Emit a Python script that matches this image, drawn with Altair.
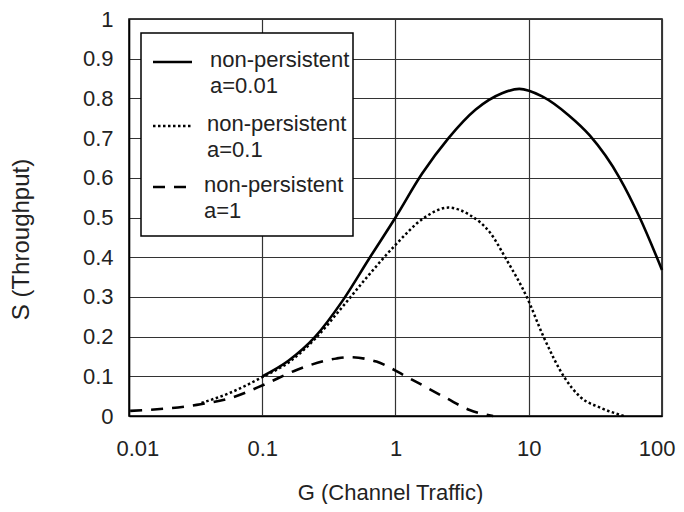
import altair as alt
import pandas as pd

# ---- data ----
x_ticks = [0.01, 0.1, 1, 10, 100]
y_ticks = [0, 0.1, 0.2, 0.3, 0.4, 0.5, 0.6, 0.7, 0.8, 0.9, 1]

g_a001 = [0.1, 0.158, 0.25, 0.4, 0.63, 1.0, 1.58, 2.5, 4.0, 6.3, 8.5, 12.6, 20, 28.8, 48, 68, 100]
s_a001 = [0.10, 0.14, 0.20, 0.29, 0.395, 0.50, 0.61, 0.70, 0.772, 0.813, 0.824, 0.805, 0.757, 0.706, 0.60, 0.50, 0.368]

g_a01 = [0.035, 0.057, 0.1, 0.158, 0.25, 0.4, 0.63, 1.0, 1.62, 2.49, 3.62, 5.12, 6.83, 9.66, 12.9, 18.7, 24.2, 35, 52]
s_a01 = [0.033, 0.058, 0.098, 0.135, 0.195, 0.275, 0.355, 0.431, 0.498, 0.525, 0.506, 0.462, 0.393, 0.30, 0.20, 0.095, 0.049, 0.02, 0.0]

g_a1 = [0.0102, 0.0322, 0.0573, 0.1018, 0.181, 0.362, 0.45, 0.72, 1.21, 2.41, 3.6, 5.4]
s_a1 = [0.013, 0.028, 0.045, 0.078, 0.116, 0.145, 0.148, 0.137, 0.099, 0.045, 0.015, 0.0]

legend_lines = [["non-persistent", "a=0.01"], ["non-persistent", "a=0.1"], ["non-persistent", "a=1"]]

FONT = "Liberation Sans"
FS = 22
W, H = 533, 397

x_enc = alt.X(
    "G:Q",
    scale=alt.Scale(type="log", domain=[0.01, 100], nice=False),
    axis=alt.Axis(
        values=x_ticks, format="~g", title="G (Channel Traffic)",
        grid=True, ticks=False, tickSize=0, labelPadding=22,
        labelFlush=True, labelFlushOffset=13,
        titleX=261, titleY=83, titleBaseline="alphabetic", titleAlign="center",
        titleAngle=0,
    ),
)
y_enc = alt.Y(
    "S:Q",
    scale=alt.Scale(domain=[0, 1], nice=False),
    axis=alt.Axis(
        values=y_ticks, format="~g", title="S (Throughput)",
        grid=True, ticks=False, tickSize=0, labelPadding=16, labelFlush=False,
        titleX=-101, titleY=220, titleAngle=270, titleBaseline="alphabetic",
        titleAlign="center", titleFontSize=24,
    ),
)


def series(gs, ss, dash, width):
    df = pd.DataFrame({"G": gs, "S": ss})
    kw = dict(color="black", strokeWidth=width, interpolate="monotone")
    if dash:
        kw["strokeDash"] = dash
    return alt.Chart(df).mark_line(**kw).encode(x=x_enc, y=y_enc)


one = pd.DataFrame({"k": [0]})

box = alt.Chart(one).mark_rect(fill="white", stroke="black", strokeWidth=1.5).encode(
    x=alt.value(12), x2=alt.value(224), y=alt.value(14), y2=alt.value(217)
)

leg_layers = [box]
sym_y = [43, 107, 168]
text_x = [81, 78, 75]
text_y = [48, 112, 173]
dashes = [None, [2.5, 2.5], [12, 9]]
widths = [2.5, 2.5, 2.5]
for i in range(3):
    kw = dict(color="black", strokeWidth=widths[i])
    if dashes[i]:
        kw["strokeDash"] = dashes[i]
    leg_layers.append(
        alt.Chart(one).mark_rule(**kw).encode(
            x=alt.value(24), x2=alt.value(63), y=alt.value(sym_y[i])
        )
    )
    leg_layers.append(
        alt.Chart(one).mark_text(
            align="left", baseline="alphabetic", font=FONT, fontSize=FS,
            lineHeight=26, color="#222222", text=legend_lines[i],
        ).encode(x=alt.value(text_x[i]), y=alt.value(text_y[i]))
    )

chart = alt.layer(
    series(g_a001, s_a001, None, 2.6),
    series(g_a01, s_a01, [2.5, 2.5], 2.5),
    series(g_a1, s_a1, [12, 9], 2.6),
    *leg_layers,
).properties(
    width=W, height=H,
    background="white",
    autosize=alt.AutoSizeParams(type="none"),
    padding={"left": 121, "top": 11, "right": 14, "bottom": 88},
).configure_view(
    stroke="black", strokeWidth=1.5
).configure_axis(
    labelFont=FONT, labelFontSize=FS, labelColor="#222222",
    titleFont=FONT, titleFontSize=FS, titleColor="#222222", titleFontWeight="normal",
    gridColor="#333333", gridWidth=1.2, gridOpacity=1,
    domainColor="black", domainWidth=1.5,
)

chart.save("out.html", embed_options={"renderer": "svg", "actions": False})
